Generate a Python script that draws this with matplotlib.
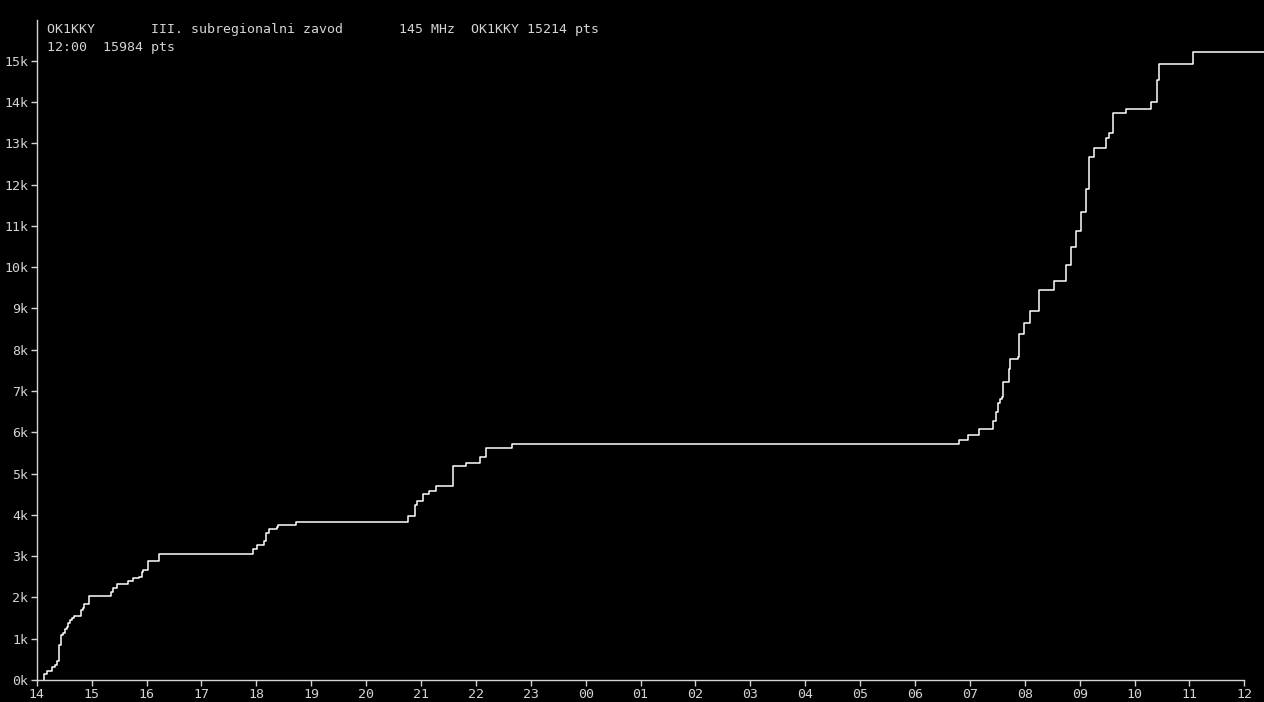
import matplotlib.pyplot as plt

# QSO log: time of each scoring step and running score after it
times = ['14:08', '14:08', '14:11', '14:17', '14:20', '14:22', '14:24', '14:26', '14:29',
         '14:31', '14:33', '14:34', '14:36', '14:38', '14:41', '14:48', '14:50', '14:52',
         '14:57', '15:21', '15:23', '15:28', '15:40', '15:45', '15:52', '15:55', '15:56',
         '16:02', '16:14', '17:56', '18:01', '18:08', '18:10', '18:14', '18:23', '18:24',
         '18:43', '20:46', '20:53', '20:56', '21:02', '21:09', '21:16', '21:35', '21:49',
         '22:05', '22:11', '22:39', '06:48', '06:58', '07:10', '07:25', '07:29', '07:31',
         '07:33', '07:35', '07:36', '07:43', '07:44', '07:52', '07:54', '07:59', '08:06',
         '08:16', '08:32', '08:45', '08:51', '08:56', '09:01', '09:07', '09:10', '09:16',
         '09:29', '09:32', '09:36', '09:51', '10:18', '10:24', '10:27', '11:04', '12:30']
points = [0, 150, 220, 310, 360, 450, 840, 1080, 1150,
          1240, 1290, 1370, 1450, 1500, 1540, 1690, 1740, 1830,
          2030, 2120, 2240, 2320, 2390, 2460, 2490, 2610, 2660,
          2880, 3050, 3180, 3260, 3360, 3550, 3650, 3710, 3760,
          3830, 3970, 4230, 4340, 4500, 4580, 4690, 5190, 5250,
          5400, 5610, 5710, 5820, 5940, 6070, 6270, 6490, 6700,
          6810, 6860, 7210, 7540, 7770, 7820, 8380, 8640, 8930,
          9440, 9660, 10050, 10480, 10870, 11330, 11890, 12670, 12880,
          13120, 13250, 13730, 13830, 14000, 14530, 14920, 15214, 15214]

start_hour = 14
hour_labels = ['%02d' % ((start_hour + i) % 24) for i in range(23)]
y_max = 15984

title1 = 'OK1KKY       III. subregionalni zavod       145 MHz  OK1KKY 15214 pts'
title2 = '12:00  15984 pts'


def to_hours(t):
    h, m = map(int, t.split(':'))
    return ((h - start_hour) % 24) + m / 60.0


x = [to_hours(t) for t in times]

fg = '#d4d4d4'
plt.rcParams['font.family'] = ['DejaVu Sans Mono']
fig = plt.figure(figsize=(12.64, 7.02), dpi=100, facecolor='black')
ax = fig.add_axes([36.8 / 1264, 22 / 702, (1264 - 36.8) / 1264, (680 - 20) / 702])
ax.set_facecolor('black')

ax.step(x, points, where='post', color='white', lw=1.1, clip_on=True)

ax.set_xlim(0, (1264 - 36.8) / 54.89)
ax.set_ylim(0, y_max)
ax.set_xticks(range(23))
ax.set_xticklabels(hour_labels)
ax.set_yticks(range(0, 16000, 1000))
ax.set_yticklabels(['%dk' % i for i in range(16)])
ax.tick_params(colors=fg, labelsize=9.5, length=4, width=1, pad=2)

for s in ['top', 'right']:
    ax.spines[s].set_visible(False)
for s in ['left', 'bottom']:
    ax.spines[s].set_color(fg)
    ax.spines[s].set_linewidth(1)
ax.spines['bottom'].set_bounds(0, 22)

fig.text(47 / 1264, 1 - 29 / 702, title1, color=fg, fontsize=9.5, va='center')
fig.text(47 / 1264, 1 - 47 / 702, title2, color=fg, fontsize=9.5, va='center')

fig.savefig('out.png', dpi=100, facecolor='black')
